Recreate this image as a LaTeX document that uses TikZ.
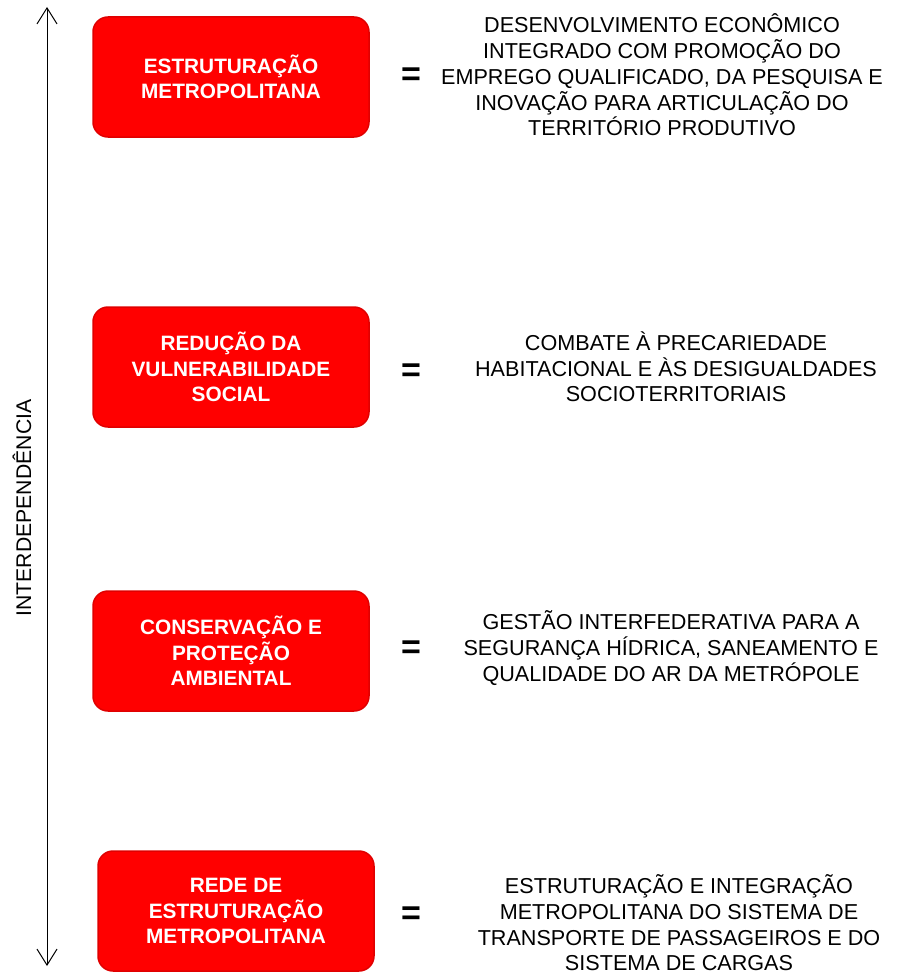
\documentclass[tikz,border=0pt]{standalone}
\usepackage{fontspec}
\setmainfont{Liberation Sans}
\usepackage{tikz}
\usetikzlibrary{arrows.meta}

\begin{document}
\begin{tikzpicture}[x=1pt,y=-1pt]
    \tikzstyle{axis}  = [line width=1pt,draw=black,{Straight Barb[length=16pt,width=20pt,line width=1pt]}-{Straight Barb[length=16pt,width=20pt,line width=1pt]}]
    \tikzstyle{theme}=[
      rectangle,
      rounded corners=15pt,
      fill=red,
      draw=red!88!black,
      line width=1.5pt,
      minimum width=276pt,
      minimum height=120pt,
      align=center,
      text=white,
      font=\fontsize{20.8}{25.5}\selectfont\bfseries,
    ]
    \tikzstyle{goal}=[
      align=center,
      font=\fontsize{21.6}{25.7}\selectfont,
    ]
    \tikzstyle{eq}=[
      font=\fontsize{34}{34}\selectfont\bfseries,
    ]
    
    \useasboundingbox (0,0) rectangle (901,974);
    
    {
      \coordinate (top) at (47,7);
      \coordinate (bot) at (47,966);
      \node[rotate=90,font=\fontsize{21.2}{24}\selectfont] (lab) at (22,508) {INTERDEPENDÊNCIA};
    }
    
    {
      \node[theme] (t1) at (231,77) {ESTRUTURAÇÃO\\METROPOLITANA};
      \node[theme] (t2) at (231,367) {REDUÇÃO DA\\VULNERABILIDADE\\SOCIAL};
      \node[theme] (t3) at (231,651) {CONSERVAÇÃO E\\PROTEÇÃO\\AMBIENTAL};
      \node[theme] (t4) at (236,911) {REDE DE\\ESTRUTURAÇÃO\\METROPOLITANA};
    }
    
    {
      \node[eq] (e1) at (411,77) {=};
      \node[eq] (e2) at (411,373) {=};
      \node[eq] (e3) at (411,650) {=};
      \node[eq] (e4) at (411,916) {=};
    }
    
    {
      \node[goal] (g1) at (662,75) {DESENVOLVIMENTO ECONÔMICO\\INTEGRADO COM PROMOÇÃO DO\\EMPREGO QUALIFICADO, DA PESQUISA E\\INOVAÇÃO PARA ARTICULAÇÃO DO\\TERRITÓRIO PRODUTIVO};
      \node[goal] (g2) at (676,367) {COMBATE À PRECARIEDADE\\HABITACIONAL E ÀS DESIGUALDADES\\SOCIOTERRITORIAIS};
      \node[goal] (g3) at (671,648) {GESTÃO INTERFEDERATIVA PARA A\\SEGURANÇA HÍDRICA, SANEAMENTO E\\QUALIDADE DO AR DA METRÓPOLE};
      \node[goal] (g4) at (679,923) {ESTRUTURAÇÃO E INTEGRAÇÃO\\METROPOLITANA DO SISTEMA DE\\TRANSPORTE DE PASSAGEIROS E DO\\SISTEMA DE CARGAS};
    }
    
    {
      \draw[axis] (bot)--(top);
    }
  \end{tikzpicture}
\end{document}
